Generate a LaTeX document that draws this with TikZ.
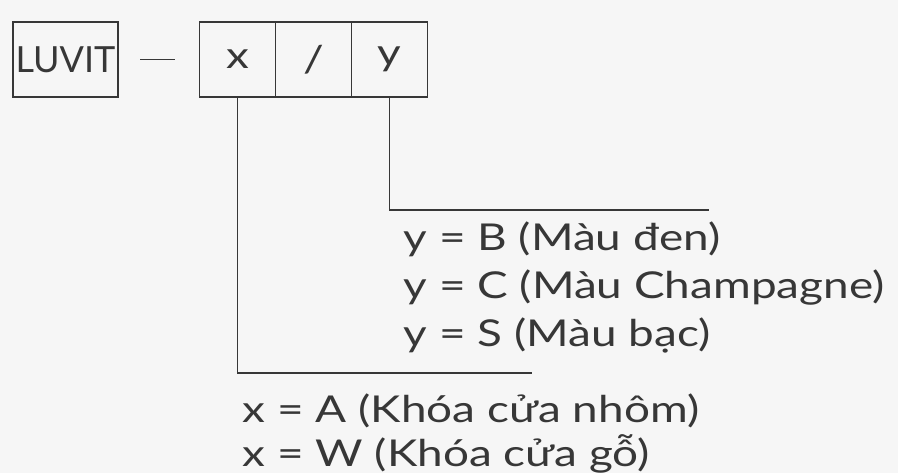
\documentclass[tikz,border=0pt]{standalone}
\usepackage{fontspec}
\setmainfont{Lato}
\newfontfamily\widefont[FakeStretch=1.24]{Lato}
\usetikzlibrary{positioning}
\definecolor{paper}{RGB}{246, 246, 246}
\definecolor{ink}{RGB}{55, 55, 55}

\begin{document}
\begin{tikzpicture}[x=1pt, y=-1pt, line width=1.6pt, ink,
  cell/.style={draw, minimum width=76pt, minimum height=75pt, inner sep=0pt, outer sep=0pt,
    font=\widefont\fontsize{37}{44}\selectfont},
  code/.style={anchor=base west, inner sep=0pt, font=\widefont\fontsize{37}{44}\selectfont, text=ink}]

\fill[paper] (0, 0) rectangle (898, 473);
\useasboundingbox (0, 0) rectangle (898, 473);

\node[cell, minimum width=105pt, font=\fontsize{36}{44}\selectfont] (luvit) at (65.5, 59.5) {LUVIT};
\node[cell] (cellx) at (237.5, 59.5) {x};
\node[cell, right=0pt of cellx] (cellsl) {/};
\node[cell, right=0pt of cellsl] (celly) {y};

\draw ([xshift=22pt]luvit.east) -- ([xshift=-25pt]cellx.west);

\coordinate (yend) at (709, 210);
\coordinate (xend) at (532, 373);
\draw (celly.south) |- (yend);
\draw (cellx.south) |- (xend);

\foreach \n/\t [count=\i from 0] in {yb/B (Màu đen), yc/C (Màu Champagne), ys/S (Màu bạc)}
  \node[code] (\n) at (403, 251 + 48 * \i) {y = \t};

\foreach \n/\t [count=\i from 0] in {xa/A (Khóa cửa nhôm), xw/W (Khóa cửa gỗ)}
  \node[code] (\n) at (242, 422 + 44 * \i) {x = \t};
\end{tikzpicture}
\end{document}
